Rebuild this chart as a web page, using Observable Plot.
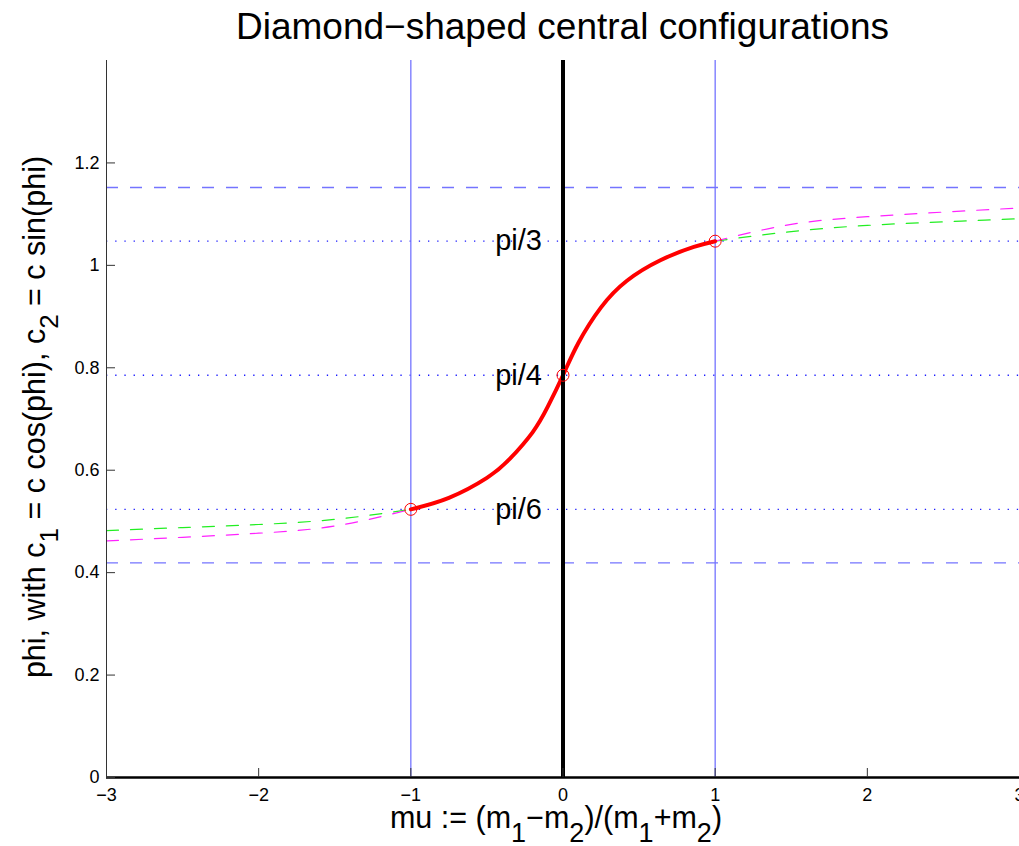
<!DOCTYPE html>
<html>
<head>
<meta charset="utf-8">
<script src="https://cdn.jsdelivr.net/npm/d3@7"></script>
<script src="https://cdn.jsdelivr.net/npm/@observablehq/plot@0.6"></script>
<style>
  html, body { margin: 0; padding: 0; background: #fff; overflow: hidden; }
  #title { font-family: "Liberation Sans", Arial, sans-serif; font-size: 37px; line-height: 37px;
           height: 50px; box-sizing: border-box; padding-top: 8px; margin-left: 106px; width: 913px;
           text-align: center; color: #000; white-space: nowrap; }
  #chart svg { display: block; overflow: visible; }
</style>
</head>
<body>
<div id="title">Diamond−shaped central configurations</div>
<div id="chart"></div>
<script>
// ---- data ----
const xTicks = [-3, -2, -1, 0, 1, 2, 3];
const yTicks = [0, 0.2, 0.4, 0.6, 0.8, 1, 1.2];
const yTickLabels = ["0", "0.2", "0.4", "0.6", "0.8", "1", "1.2"];

// red solution curve (mu in [-1, 1])
const curveMu  = [-1, -0.75, -0.5, -0.35, -0.2, -0.1, 0, 0.1, 0.25, 0.42, 0.64, 0.86, 1];
const curvePhi = [0.5236, 0.546, 0.585, 0.622, 0.674, 0.724, 0.7854, 0.848, 0.918, 0.970, 1.010, 1.036, 1.0472];

// dashed continuations
const leftMu = [-3, -2.5, -2, -1.5, -1];
const greenLeft = [0.482, 0.488, 0.494, 0.504, 0.5236];
const magentaLeft = [0.462, 0.469, 0.477, 0.491, 0.5236];
const rightMu = [1, 1.5, 2, 2.5, 3];
const greenRight = [1.0472, 1.066, 1.078, 1.085, 1.091];
const magentaRight = [1.0472, 1.080, 1.095, 1.104, 1.112];

// reference levels
const dashedLevels = [0.419, 1.152];
const dottedLevels = [0.5236, 0.7854, 1.0472];
const dottedNames = ["pi/6", "pi/4", "pi/3"];
const verticalBlue = [-1, 1];
const markMu = [-1, 0, 1];
const markPhi = [0.5236, 0.7854, 1.0472];

// ---- build ----
const zip = (xs, ys) => xs.map((x, i) => ({x, y: ys[i]}));
const blue = "#7474ff";
const fmtX = d3.format("d");

const plot = Plot.plot({
  width: 1019,
  height: 796,
  marginTop: 10,
  marginBottom: 69,
  marginLeft: 106,
  marginRight: 0,
  style: {fontFamily: "Liberation Sans, Arial, sans-serif", fontSize: "18px", color: "#000", background: "#fff"},
  x: {domain: [-3, 3]},
  y: {domain: [0, 1.4]},
  marks: [
    Plot.ruleY(dashedLevels, {stroke: blue, strokeWidth: 1.3, strokeDasharray: "12,12"}),
    Plot.ruleY(dottedLevels, {stroke: "#1a1aff", strokeWidth: 1.3, strokeDasharray: "1.3,7.9"}),
    Plot.ruleX(verticalBlue, {stroke: blue, strokeWidth: 1.3}),
    Plot.line(zip(leftMu, greenLeft), {x: "x", y: "y", stroke: "#22ee22", strokeWidth: 1.2, strokeDasharray: "12,12", curve: "natural"}),
    Plot.line(zip(leftMu, magentaLeft), {x: "x", y: "y", stroke: "#ff22ff", strokeWidth: 1.2, strokeDasharray: "12,12", curve: "natural"}),
    Plot.line(zip(rightMu, greenRight), {x: "x", y: "y", stroke: "#22ee22", strokeWidth: 1.2, strokeDasharray: "12,12", curve: "natural"}),
    Plot.line(zip(rightMu, magentaRight), {x: "x", y: "y", stroke: "#ff22ff", strokeWidth: 1.2, strokeDasharray: "12,12", curve: "natural"}),
    Plot.line(zip(curveMu, curvePhi), {x: "x", y: "y", stroke: "#ff0000", strokeWidth: 4, curve: "natural"}),
    Plot.ruleX([0], {stroke: "#000", strokeWidth: 4}),
    Plot.ruleY([0], {stroke: "#000", strokeWidth: 2.5}),
    Plot.ruleX([-3], {stroke: "#333", strokeWidth: 1}),
    Plot.dot(zip(markMu, markPhi), {x: "x", y: "y", r: 6, stroke: "#ff0000", strokeWidth: 1, fill: "none"}),
    Plot.text(zip(dottedLevels.map(() => 0), dottedLevels).map((d, i) => ({...d, t: dottedNames[i]})),
      {x: "x", y: "y", text: "t", textAnchor: "end", dx: -21, fontSize: 29, fill: "#000"}),
    Plot.axisY(yTicks, {tickSize: -9, tickPadding: 16, fontSize: 18, label: null, stroke: "#333",
      tickFormat: (d) => yTickLabels[yTicks.indexOf(d)]}),
    Plot.axisX(xTicks, {tickSize: -9, tickPadding: 20, fontSize: 18, label: null, stroke: "#333",
      tickFormat: fmtX})
  ]
});
document.getElementById("chart").appendChild(plot);

// ---- axis titles with subscripts ----
const svg = d3.select(plot);
const xl = svg.append("text")
  .attr("x", 556).attr("y", 778)
  .attr("text-anchor", "middle")
  .attr("font-family", "Liberation Sans, Arial, sans-serif")
  .attr("font-size", 30.5).attr("fill", "#000");
const xParts = [["mu := (m", 0], ["1", 1], ["−m", 0], ["2", 1], [")/(m", 0], ["1", 1], ["+m", 0], ["2", 1], [")", 0]];
let sub = false;
xParts.forEach(([s, isSub]) => {
  const t = xl.append("tspan").text(s);
  if (isSub && !sub) { t.attr("dy", 14).attr("font-size", 27); sub = true; }
  else if (!isSub && sub) { t.attr("dy", -14); sub = false; }
});

const yl = svg.append("text")
  .attr("transform", "translate(45,367) rotate(-90)")
  .attr("text-anchor", "middle")
  .attr("font-family", "Liberation Sans, Arial, sans-serif")
  .attr("font-size", 30.5).attr("fill", "#000");
const yParts = [["phi, with c", 0], ["1", 1], [" = c cos(phi), c", 0], ["2", 1], [" = c sin(phi)", 0]];
sub = false;
yParts.forEach(([s, isSub]) => {
  const t = yl.append("tspan").text(s);
  if (isSub && !sub) { t.attr("dy", 13).attr("font-size", 26); sub = true; }
  else if (!isSub && sub) { t.attr("dy", -13); sub = false; }
});
</script>
</body>
</html>
